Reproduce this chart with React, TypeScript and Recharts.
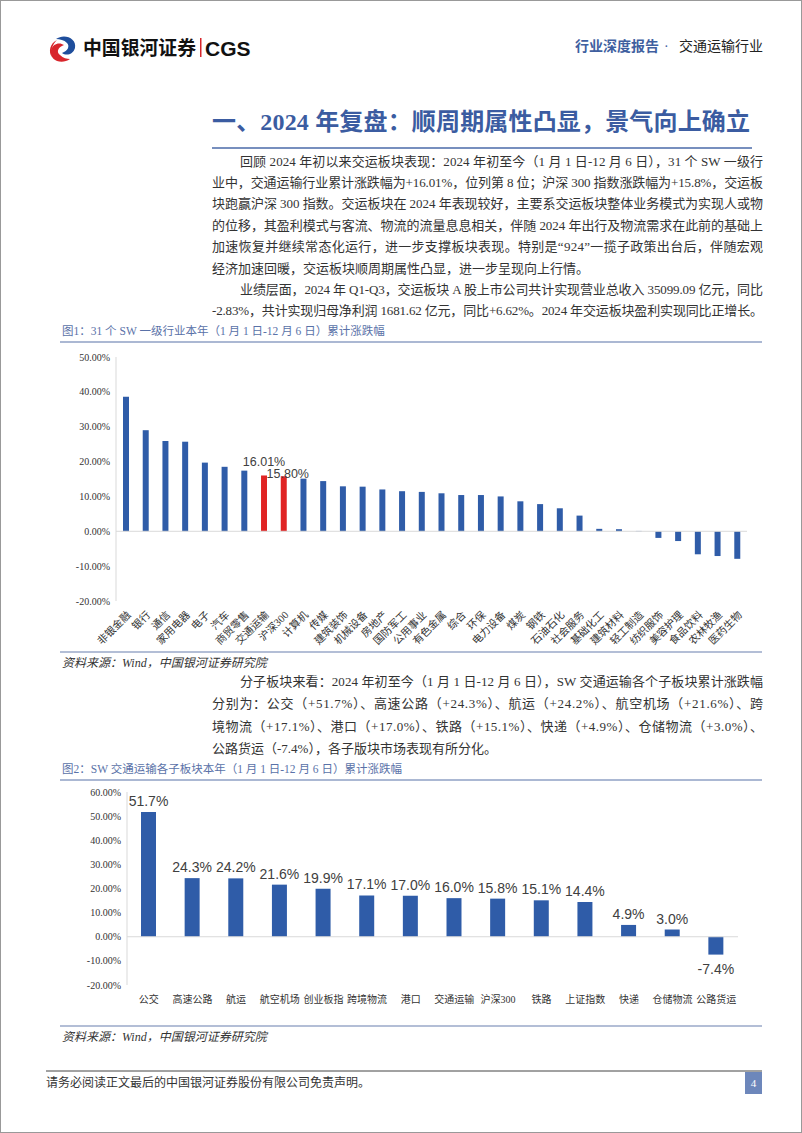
import React from "react";
import { Bar, BarChart, Cell, LabelList, ReferenceLine, XAxis, YAxis } from "recharts";

// 图1: 31 个 SW 一级行业 + 沪深300, 本年累计涨跌幅 (%)
const industries = [
  "非银金融", "银行", "通信", "家用电器", "电子", "汽车", "商贸零售", "交通运输",
  "沪深300", "计算机", "传媒", "建筑装饰", "机械设备", "房地产", "国防军工", "公用事业",
  "有色金属", "综合", "环保", "电力设备", "煤炭", "钢铁", "石油石化", "社会服务",
  "基础化工", "建筑材料", "轻工制造", "纺织服饰", "美容护理", "食品饮料", "农林牧渔", "医药生物",
];
const industryReturns = [
  38.6, 29.0, 25.9, 25.7, 19.7, 18.5, 17.4, 16.01,
  15.8, 15.1, 14.4, 12.9, 12.8, 12.0, 11.5, 11.3,
  10.9, 10.4, 10.4, 10.0, 8.6, 7.8, 6.6, 4.5,
  0.7, 0.6, 0.1, -1.9, -2.8, -6.6, -7.1, -7.9,
];
const highlighted = ["交通运输", "沪深300"];
const industryTicks = [-20, -10, 0, 10, 20, 30, 40, 50];

// 图2: SW 交通运输各子板块本年累计涨跌幅 (%)
const subSectors = [
  "公交", "高速公路", "航运", "航空机场", "创业板指", "跨境物流", "港口",
  "交通运输", "沪深300", "铁路", "上证指数", "快递", "仓储物流", "公路货运",
];
const subReturns = [51.7, 24.3, 24.2, 21.6, 19.9, 17.1, 17.0, 16.0, 15.8, 15.1, 14.4, 4.9, 3.0, -7.4];
const subTicks = [-20, -10, 0, 10, 20, 30, 40, 50, 60];

const industryRows = industries.map((name, i) => ({ name, value: industryReturns[i] }));
const subRows = subSectors.map((name, i) => ({ name, value: subReturns[i] }));

const SERIF = "'Liberation Serif', 'Times New Roman', 'Noto Sans CJK SC', serif";
const SANS = "'Liberation Sans', Arial, 'Noto Sans CJK SC', sans-serif";
const BLUE = "#2f5ca8";
const RED = "#e02424";
const AXIS = "#d9d9d9";
const TEXT = "#333333";

const para1 = [
  "回顾 2024 年初以来交运板块表现：2024 年初至今（1 月 1 日-12 月 6 日），31 个 SW 一级行",
  "业中，交通运输行业累计涨跌幅为+16.01%，位列第 8 位；沪深 300 指数涨跌幅为+15.8%，交运板",
  "块跑赢沪深 300 指数。交运板块在 2024 年表现较好，主要系交运板块整体业务模式为实现人或物",
  "的位移，其盈利模式与客流、物流的流量息息相关，伴随 2024 年出行及物流需求在此前的基础上",
  "加速恢复并继续常态化运行，进一步支撑板块表现。特别是“924”一揽子政策出台后，伴随宏观",
  "经济加速回暖，交运板块顺周期属性凸显，进一步呈现向上行情。",
];
const para2 = [
  "业绩层面，2024 年 Q1-Q3，交运板块 A 股上市公司共计实现营业总收入 35099.09 亿元，同比",
  "-2.83%，共计实现归母净利润 1681.62 亿元，同比+6.62%。2024 年交运板块盈利实现同比正增长。",
];
const para3 = [
  "分子板块来看：2024 年初至今（1 月 1 日-12 月 6 日），SW 交通运输各个子板块累计涨跌幅",
  "分别为：公交（+51.7%）、高速公路（+24.3%）、航运（+24.2%）、航空机场（+21.6%）、跨",
  "境物流（+17.1%）、港口（+17.0%）、铁路（+15.1%）、快递（+4.9%）、仓储物流（+3.0%）、",
  "公路货运（-7.4%），各子版块市场表现有所分化。",
];

function Paragraph({ lines, top, step, fullLast }: { lines: string[]; top: number; step: number; fullLast?: boolean }) {
  return (
    <g fontFamily={SERIF} fontSize={13} fill={TEXT}>
      {lines.map((line, i) => {
        const last = i === lines.length - 1 && !fullLast;
        const x = i === 0 ? 240 : 212;
        return (
          <text
            key={i}
            x={x}
            y={top + i * step}
            textLength={last ? undefined : 763 - x}
            lengthAdjust="spacing"
          >
            {line}
          </text>
        );
      })}
    </g>
  );
}

function IndustryTick({ x, y, payload }: any) {
  return (
    <text
      x={0}
      y={0}
      transform={`translate(${x + 3},${y + 4}) rotate(-45)`}
      textAnchor="end"
      dy="0.35em"
      fontSize={10.5}
      fontFamily={SERIF}
      fill={TEXT}
    >
      {payload.value}
    </text>
  );
}

function SubTick({ x, y, payload }: any) {
  return (
    <text x={x} y={y + 10} textAnchor="middle" fontSize={10} fontFamily={SERIF} fill={TEXT}>
      {payload.value}
    </text>
  );
}

function IndustryLabel(props: any) {
  const { x, y, width, value, index } = props;
  const name = industries[index];
  if (!highlighted.includes(name)) return null;
  const shift = name === "沪深300" ? { dx: 4, lift: -2 } : { dx: 0, lift: 9 };
  return (
    <text
      x={x + width / 2 + shift.dx}
      y={y - shift.lift}
      textAnchor="middle"
      fontSize={12.5}
      fontFamily={SANS}
      fill="#404040"
    >
      {`${Number(value).toFixed(2)}%`}
    </text>
  );
}

function SubLabel(props: any) {
  const { x, y, width, height, value } = props;
  const top = Math.min(y, y + height);
  const bottom = Math.max(y, y + height);
  const ty = value >= 0 ? top - 6 : bottom + 19;
  return (
    <text x={x + width / 2} y={ty} textAnchor="middle" fontSize={14} fontFamily={SANS} fill="#404040">
      {`${Number(value).toFixed(1)}%`}
    </text>
  );
}

const pct2 = (v: number) => `${v.toFixed(2)}%`;

function Logo() {
  return (
    <g transform="translate(6,2)">
      <path d="M50 37 C58 31 71 36 69 46 C67 53 60 54 56 51 C62 49 64 44 61 41 C58 38 54 37 50 37 Z" fill="#1f4e9c" />
      <path d="M64 57 C56 63 43 59 45 48 C47 41 54 40 58 43 C52 45 50 50 54 53 C57 56 61 57 64 57 Z" fill="#d8262c" />
      <path d="M51 38 C44 41 42 50 46 55 C44 48 47 42 51 38 Z" fill="#d8262c" />
    </g>
  );
}

export default function App() {
  return (
    <div style={{ position: "absolute", left: 0, top: 0, width: 802, height: 1133, background: "#fff" }}>
      <svg width={802} height={1133} style={{ position: "absolute", left: 0, top: 0 }}>
        <rect x={0.5} y={0.5} width={801} height={1132} fill="none" stroke="#999" />
        <Logo />
        <text x={83} y={55} fontSize={19} fontWeight={700} fontFamily="'Noto Sans CJK SC', sans-serif" fill="#111" textLength={113} lengthAdjust="spacingAndGlyphs">
          中国银河证券
        </text>
        <rect x={200} y={38} width={1.5} height={19} fill="#d8262c" />
        <text x={205} y={56} fontSize={21} fontWeight={700} fontFamily={SANS} fill="#111">
          CGS
        </text>
        <text x={575} y={51} fontSize={14} fontWeight={700} fontFamily={SERIF} fill="#3f5f9f">
          行业深度报告
        </text>
        <text x={664} y={51} fontSize={14} fontFamily={SERIF} fill="#3f5f9f">·</text>
        <text x={679} y={51} fontSize={14} fontFamily={SERIF} fill="#222">
          交通运输行业
        </text>

        <text x={212} y={130} fontSize={24} fontWeight={700} fontFamily={SERIF} fill="#3b5ca1" textLength={538} lengthAdjust="spacing">
          一、2024 年复盘：顺周期属性凸显，景气向上确立
        </text>
        <line x1={212} x2={752} y1={148} y2={148} stroke="#4a6aa8" strokeWidth={1.5} />

        <Paragraph lines={para1} top={165.5} step={21.4} />
        <Paragraph lines={para2} top={293.9} step={21.4} fullLast />

        <text x={62} y={335} fontSize={11.5} fontFamily={SERIF} fill="#5a72a8">
          图1：31 个 SW 一级行业本年（1 月 1 日-12 月 6 日）累计涨跌幅
        </text>
        <line x1={60} x2={762} y1={342} y2={342} stroke="#8fa0c4" strokeWidth={1.5} />
        <line x1={60} x2={762} y1={652} y2={652} stroke="#9aa8c8" strokeWidth={1.5} />
        <text x={62} y={667} fontSize={12} fontStyle="italic" fontFamily={SERIF} fill={TEXT}>
          资料来源：Wind，中国银河证券研究院
        </text>

        <Paragraph lines={para3} top={685.5} step={22.6} />

        <text x={62} y={773} fontSize={11.5} fontFamily={SERIF} fill="#5a72a8">
          图2：SW 交通运输各子板块本年（1 月 1 日-12 月 6 日）累计涨跌幅
        </text>
        <line x1={60} x2={762} y1={780} y2={780} stroke="#8fa0c4" strokeWidth={1.5} />
        <line x1={60} x2={762} y1={1026} y2={1026} stroke="#9aa8c8" strokeWidth={1.5} />
        <text x={62} y={1041} fontSize={12} fontStyle="italic" fontFamily={SERIF} fill={TEXT}>
          资料来源：Wind，中国银河证券研究院
        </text>

        <line x1={46} x2={762} y1={1071} y2={1071} stroke="#444" strokeWidth={1} />
        <text x={46} y={1087} fontSize={12} fontFamily={SERIF} fill={TEXT}>
          请务必阅读正文最后的中国银河证券股份有限公司免责声明。
        </text>
        <rect x={745} y={1072} width={17} height={22} fill="#6d87bb" />
        <text x={753.5} y={1087} fontSize={11} textAnchor="middle" fontFamily={SERIF} fill="#fff">4</text>
      </svg>

      <div style={{ position: "absolute", left: 60, top: 350 }}>
        <BarChart width={700} height={300} data={industryRows} margin={{ top: 7, right: 13, bottom: 0, left: 0 }}>
          <YAxis
            domain={[-20, 50]}
            ticks={industryTicks}
            tickFormatter={pct2}
            width={56}
            axisLine={{ stroke: AXIS }}
            tickLine={false}
            tickSize={4}
            tickMargin={2}
            tick={{ fontSize: 10, fill: TEXT, fontFamily: SERIF }}
          />
          <XAxis dataKey="name" interval={0} height={49} axisLine={false} tickLine={false} tick={<IndustryTick />} />
          <ReferenceLine y={0} stroke={AXIS} />
          <Bar dataKey="value" barSize={6} isAnimationActive={false}>
            {industryRows.map((r) => (
              <Cell key={r.name} fill={highlighted.includes(r.name) ? RED : BLUE} />
            ))}
            <LabelList dataKey="value" content={<IndustryLabel />} />
          </Bar>
        </BarChart>
      </div>

      <div style={{ position: "absolute", left: 60, top: 782 }}>
        <BarChart width={700} height={240} data={subRows} margin={{ top: 10, right: 22, bottom: 0, left: 0 }}>
          <YAxis
            domain={[-20, 60]}
            ticks={subTicks}
            tickFormatter={pct2}
            width={67}
            axisLine={{ stroke: AXIS }}
            tickLine={false}
            tickSize={4}
            tickMargin={2}
            tick={{ fontSize: 10, fill: TEXT, fontFamily: SERIF }}
          />
          <XAxis dataKey="name" interval={0} height={37} axisLine={false} tickLine={false} tick={<SubTick />} />
          <ReferenceLine y={0} stroke={AXIS} />
          <Bar dataKey="value" barSize={15} fill={BLUE} isAnimationActive={false}>
            <LabelList dataKey="value" content={<SubLabel />} />
          </Bar>
        </BarChart>
      </div>
    </div>
  );
}
